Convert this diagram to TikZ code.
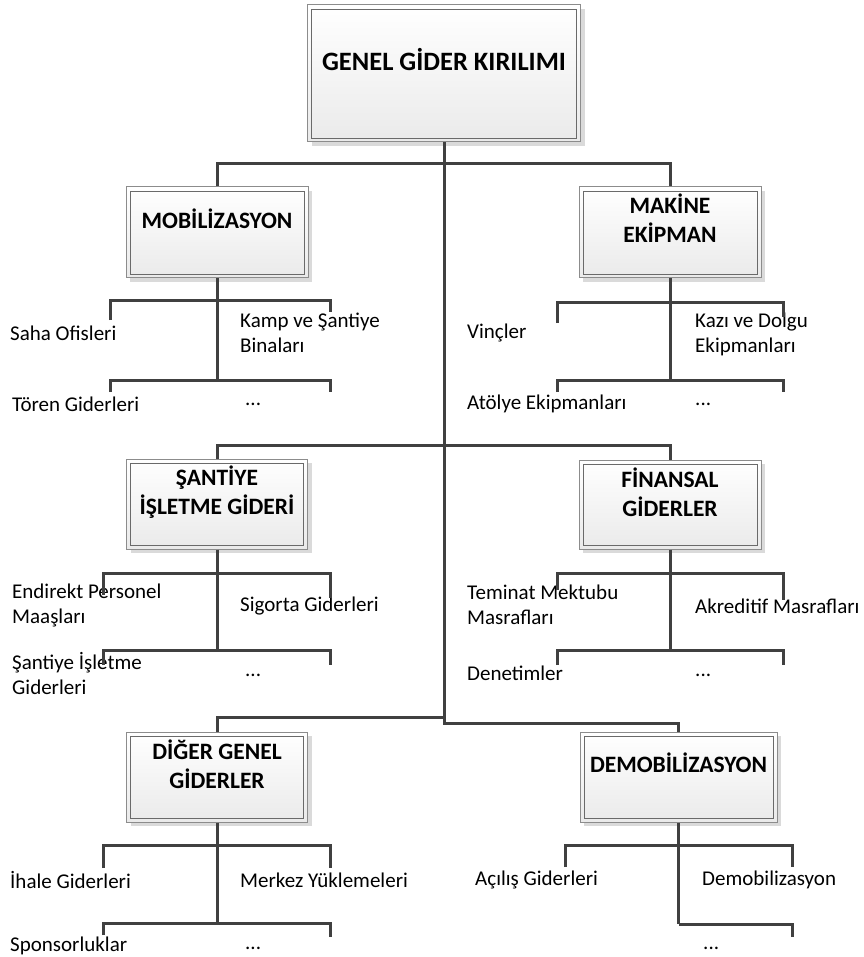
\documentclass[tikz,border=0pt]{standalone}
\usepackage{fontspec}
\setmainfont{Carlito}
\usetikzlibrary{shadows}

\definecolor{linegray}{HTML}{404040}
\definecolor{boxedge}{HTML}{8C8C8C}
\definecolor{boxinner}{HTML}{6A6A6A}
\definecolor{boxfill}{HTML}{EAEAEA}
\definecolor{shadowgray}{HTML}{DADADA}

% connector from a bus point to two tick ends
\newcommand\busline[3]{\draw[conn] (#2) -- (#2 |- #1) -- (#3 |- #1) -- (#3);}
% inner frame of a box
\newcommand\innerframe[1]{\draw[frame] ([shift={(4.5pt,-4.5pt)}]#1.north west) rectangle ([shift={(-4.5pt,4.5pt)}]#1.south east);}

\begin{document}
\begin{tikzpicture}[x=1pt,y=-1pt,
  conn/.style={draw=linegray, line width=3pt, line join=miter},
  frame/.style={draw=boxinner, line width=0.9pt},
  boxnode/.style={draw=boxedge, line width=1pt, top color=white, bottom color=boxfill,
    drop shadow={shadow xshift=4pt, shadow yshift=-4pt, fill=shadowgray, opacity=1},
    inner sep=0pt, minimum height=91pt},
  subtitle/.style={font=\bfseries\fontsize{23.5}{29}\selectfont, align=center, inner sep=0pt},
  leaf/.style={font=\fontsize{21}{25}\selectfont, align=left, inner sep=0pt, anchor=west}]

\useasboundingbox (0,0) rectangle (863,957);

% boxes
\node[boxnode, minimum width=273pt, minimum height=137pt] (top) at (444,73.5) {};
\node[boxnode, minimum width=182pt] (mob) at (217,232.5) {};
\node[boxnode, minimum width=182pt] (mak) at (670,232.5) {};
\node[boxnode, minimum width=181pt, minimum height=90pt] (san) at (217,504) {};
\node[boxnode, minimum width=182pt, minimum height=89pt] (fin) at (670,504.5) {};
\node[boxnode, minimum width=181pt, minimum height=90pt] (dig) at (217,777) {};
\node[boxnode, minimum width=197pt, minimum height=90pt] (dem) at (678.5,777) {};
\innerframe{top}
\innerframe{mob}
\innerframe{mak}
\innerframe{san}
\innerframe{fin}
\innerframe{dig}
\innerframe{dem}

% box titles
\node[font=\bfseries\fontsize{26.5}{32}\selectfont, inner sep=0pt] (topT) at ([yshift=13.5pt]top.center) {GENEL GİDER KIRILIMI};
\node[subtitle] (mobT) at ([yshift=14pt]mob.center) {MOBİLİZASYON};
\node[subtitle] (makT) at ([yshift=14pt]mak.center) {MAKİNE\\EKİPMAN};
\node[subtitle] (sanT) at ([yshift=12pt]san.center) {ŞANTİYE\\İŞLETME GİDERİ};
\node[subtitle] (finT) at ([yshift=12pt]fin.center) {FİNANSAL\\GİDERLER};
\node[subtitle] (digT) at ([yshift=13pt]dig.center) {DİĞER GENEL\\GİDERLER};
\node[subtitle] (demT) at ([yshift=14pt]dem.center) {DEMOBİLİZASYON};

% item labels
\node[leaf] (a1) at (10,333) {Saha Ofisleri};
\node[leaf] (a2) at (240,333) {Kamp ve Şantiye\\Binaları};
\node[leaf] (a3) at (12,404) {Tören Giderleri};
\node[leaf] (a4) at (245,404) {...};

\node[leaf] (b1) at (467,333) {Vinçler};
\node[leaf] (b2) at (695,334) {Kazı ve Dolgu\\Ekipmanları};
\node[leaf] (b3) at (467,404) {Atölye Ekipmanları};
\node[leaf] (b4) at (695,404) {...};

\node[leaf] (c1) at (12,605) {Endirekt Personel\\Maaşları};
\node[leaf] (c2) at (240,606) {Sigorta Giderleri};
\node[leaf] (c3) at (12,673) {Şantiye İşletme\\Giderleri};
\node[leaf] (c4) at (245,675) {...};

\node[leaf] (d1) at (467,605) {Teminat Mektubu\\Masrafları};
\node[leaf] (d2) at (695,606) {Akreditif Masrafları};
\node[leaf] (d3) at (467,673) {Denetimler};
\node[leaf] (d4) at (695,675) {...};

\node[leaf] (e1) at (10,880) {İhale Giderleri};
\node[leaf] (e2) at (240,880) {Merkez Yüklemeleri};
\node[leaf] (e3) at (10,946) {Sponsorluklar};
\node[leaf] (e4) at (245,948) {...};

\node[leaf] (f1) at (475,880) {Açılış Giderleri};
\node[leaf] (f2) at (702,880) {Demobilizasyon};
\node[leaf] (f3) at (703,948) {...};

% junction points of the main tree
\coordinate (bus1) at (444,164);
\coordinate (bus2) at (444,445);
\coordinate (bus3) at (444,717);
\coordinate (trunkEnd) at (444,723);

% main trunk and branches
\draw[conn] (top.south) -- (trunkEnd) -| (dem.north);
\draw[conn] (mob.north) |- (bus1) -| (mak.north);
\draw[conn] (san.north) |- (bus2) -| (fin.north);
\draw[conn] (dig.north) |- (bus3);

% stems below the boxes
\coordinate (mobS) at (217,380);
\coordinate (makS) at (670,380);
\coordinate (sanS) at (217,650);
\coordinate (finS) at (670,650);
\coordinate (digS) at (217,923);
\coordinate (demS) at (678.5,924);
\draw[conn] (mob.south) -- (mobS);
\draw[conn] (mak.south) -- (makS);
\draw[conn] (san.south) -- (sanS);
\draw[conn] (fin.south) -- (finS);
\draw[conn] (dig.south) -- (digS);
\draw[conn] (dem.south) -- (demS);

% item buses and tick ends
\coordinate (mobB1) at (217,300);
\coordinate (mobL1) at (110,320); \coordinate (mobR1) at (330,312);
\coordinate (mobL2) at (110,392); \coordinate (mobR2) at (330,392);
\busline{mobB1}{mobL1}{mobR1}
\busline{mobS}{mobL2}{mobR2}

\coordinate (makB1) at (670,302);
\coordinate (makL1) at (557,323); \coordinate (makR1) at (783,317);
\coordinate (makL2) at (557,392); \coordinate (makR2) at (783,392);
\busline{makB1}{makL1}{makR1}
\busline{makS}{makL2}{makR2}

\coordinate (sanB1) at (217,573);
\coordinate (sanL1) at (103,595); \coordinate (sanR1) at (330,598);
\coordinate (sanL2) at (103,665); \coordinate (sanR2) at (330,665);
\busline{sanB1}{sanL1}{sanR1}
\busline{sanS}{sanL2}{sanR2}

\coordinate (finB1) at (670,573);
\coordinate (finL1) at (557,590); \coordinate (finR1) at (783,600);
\coordinate (finL2) at (557,665); \coordinate (finR2) at (783,665);
\busline{finB1}{finL1}{finR1}
\busline{finS}{finL2}{finR2}

\coordinate (digB1) at (217,845);
\coordinate (digL1) at (103,868); \coordinate (digR1) at (330,868);
\coordinate (digL2) at (103,935); \coordinate (digR2) at (330,937);
\busline{digB1}{digL1}{digR1}
\busline{digS}{digL2}{digR2}

\coordinate (demB1) at (678.5,845);
\coordinate (demL1) at (565,867); \coordinate (demR1) at (792,867);
\coordinate (demR2) at (792,937);
\busline{demB1}{demL1}{demR1}
\draw[conn] (demS) -| (demR2);
\end{tikzpicture}
\end{document}
